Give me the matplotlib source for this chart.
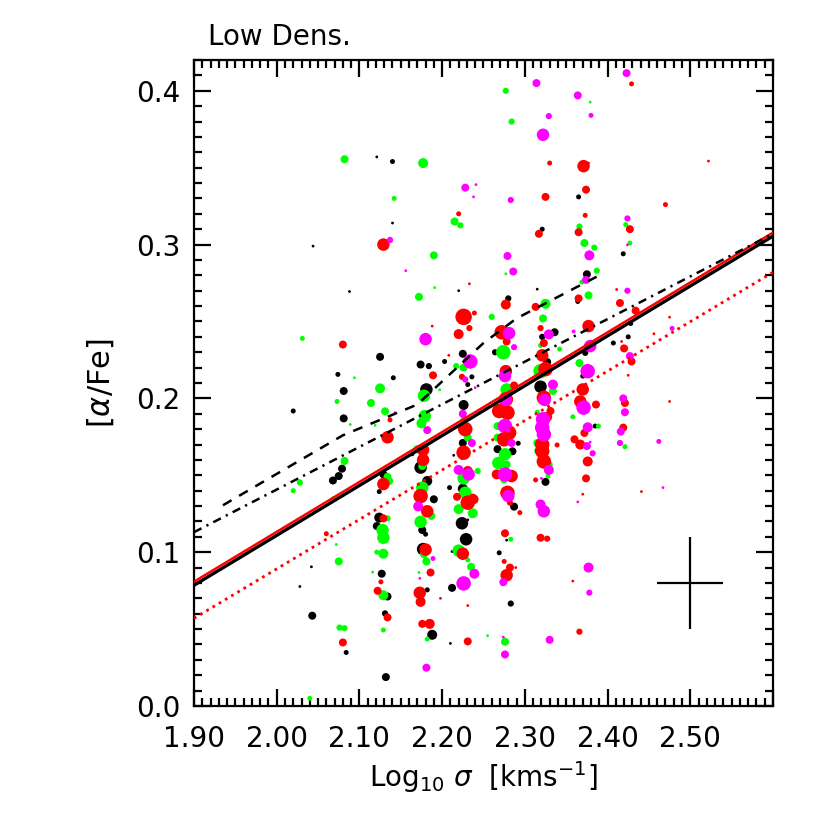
import matplotlib
matplotlib.use("Agg")
import matplotlib.pyplot as plt
from matplotlib.ticker import MultipleLocator

# galaxies: (log sigma, [alpha/Fe], weight class 1..5)
black_pts = [
    (2.121, 0.357, 1), (2.140, 0.354, 2), (2.140, 0.314, 1), (2.044, 0.299, 1),
    (2.088, 0.2695, 1), (2.220, 0.270, 1), (2.125, 0.227, 3), (2.225, 0.229, 3),
    (2.174, 0.222, 3), (2.184, 0.221, 2.5), (2.203, 0.224, 2), (2.074, 0.2156, 2),
    (2.236, 0.214, 2), (2.141, 0.2134, 2),
    (2.365, 0.331, 2), (2.321, 0.310, 2), (2.419, 0.294, 2), (2.375, 0.2807, 3),
    (2.315, 0.271, 1), (2.280, 0.265, 2.5), (2.364, 0.263, 2), (2.336, 0.243, 3),
    (2.321, 0.240, 2.5), (2.264, 0.230, 2.5), (2.373, 0.2296, 2.5), (2.428, 0.2487, 2),
    (2.425, 0.240, 2), (2.407, 0.236, 2), (2.327, 0.2236, 3), (2.370, 0.2145, 2),
    (2.081, 0.2048, 3), (2.181, 0.2058, 4), (2.226, 0.1957, 3.5), (2.081, 0.187, 3),
    (2.225, 0.171, 3), (2.214, 0.163, 1), (2.164, 0.1636, 1.5), (2.079, 0.1543, 3),
    (2.174, 0.155, 4), (2.075, 0.1495, 3), (2.129, 0.1506, 3), (2.068, 0.1466, 3),
    (2.182, 0.1463, 3.5), (2.209, 0.142, 2), (2.225, 0.1413, 3.5), (2.124, 0.1394, 2),
    (2.231, 0.209, 2),
    (2.190, 0.1344, 3), (2.176, 0.1144, 3), (2.180, 0.1117, 2), (2.224, 0.1188, 4),
    (2.229, 0.1084, 4), (2.231, 0.121, 1), (2.212, 0.1004, 1), (2.212, 0.0768, 3),
    (2.210, 0.0407, 1), (2.124, 0.1225, 3.5), (2.121, 0.117, 3), (2.127, 0.086, 3),
    (2.134, 0.0712, 3), (2.131, 0.0602, 2.5), (2.132, 0.0188, 3), (2.084, 0.0348, 2),
    (2.177, 0.102, 4), (2.182, 0.0755, 2), (2.188, 0.0463, 3.5),
    (2.020, 0.1918, 2), (2.042, 0.0905, 1), (2.028, 0.0777, 1), (2.043, 0.0587, 3),
    (2.319, 0.2076, 4), (2.292, 0.1708, 2), (2.267, 0.167, 3), (2.285, 0.1656, 3),
    (2.325, 0.1457, 3), (2.385, 0.182, 2),
    (2.287, 0.1296, 3), (2.278, 0.1078, 1), (2.269, 0.0996, 2), (2.283, 0.0666, 2.5),
]

green_pts = [
    (2.082, 0.3555, 3), (2.177, 0.353, 3.5), (2.142, 0.330, 2), (2.215, 0.315, 3),
    (2.222, 0.3125, 2.5), (2.190, 0.293, 3), (2.191, 0.272, 1), (2.172, 0.266, 3),
    (2.031, 0.239, 2), (2.217, 0.221, 2.5), (2.226, 0.220, 3), (2.094, 0.2134, 1),
    (2.277, 0.400, 2.5), (2.379, 0.3926, 1), (2.284, 0.380, 2.5), (2.366, 0.3117, 2.5),
    (2.422, 0.313, 2), (2.372, 0.301, 3), (2.384, 0.298, 2.5), (2.427, 0.301, 2),
    (2.277, 0.281, 1), (2.387, 0.283, 2.5), (2.369, 0.2757, 2), (2.325, 0.2615, 3.5),
    (2.377, 0.267, 3), (2.260, 0.253, 2.5), (2.322, 0.252, 3), (2.319, 0.2344, 2),
    (2.342, 0.232, 2), (2.274, 0.230, 4.5), (2.319, 0.2177, 4.5), (2.366, 0.223, 3),
    (2.125, 0.2065, 3.5), (2.178, 0.2017, 4), (2.197, 0.2056, 1), (2.073, 0.198, 2),
    (2.114, 0.197, 3), (2.131, 0.1916, 3), (2.179, 0.1885, 4), (2.227, 0.186, 3),
    (2.089, 0.183, 1), (2.119, 0.1825, 1), (2.175, 0.1838, 3.5), (2.231, 0.1745, 3),
    (2.170, 0.167, 3), (2.082, 0.1593, 3), (2.176, 0.156, 3), (2.134, 0.149, 3),
    (2.243, 0.1528, 2.5), (2.226, 0.148, 4), (2.136, 0.1463, 3), (2.176, 0.142, 4),
    (2.228, 0.1387, 4),
    (2.187, 0.1236, 3), (2.174, 0.1197, 4), (2.220, 0.128, 3.5), (2.237, 0.1253, 3.5),
    (2.220, 0.1010, 4), (2.231, 0.095, 2), (2.235, 0.0905, 3), (2.255, 0.0457, 1),
    (2.134, 0.122, 2.5), (2.128, 0.1144, 4), (2.129, 0.1094, 4), (2.121, 0.100, 2),
    (2.129, 0.099, 3.5), (2.075, 0.094, 3), (2.072, 0.105, 1), (2.116, 0.087, 1),
    (2.129, 0.072, 3.5), (2.129, 0.0494, 2), (2.076, 0.051, 2.5), (2.082, 0.0506, 2.5),
    (2.181, 0.094, 3), (2.172, 0.0868, 1), (2.178, 0.0987, 3), (2.182, 0.0435, 2),
    (2.028, 0.1453, 2.5), (2.020, 0.140, 2), (2.068, 0.1355, 1), (2.040, 0.005, 2),
    (2.334, 0.2048, 3), (2.278, 0.2058, 4), (2.267, 0.182, 3), (2.267, 0.1745, 3),
    (2.276, 0.1636, 4), (2.268, 0.158, 4), (2.278, 0.157, 3), (2.275, 0.1474, 3),
    (2.315, 0.191, 2), (2.315, 0.171, 3), (2.315, 0.1658, 2.5), (2.330, 0.157, 2.5),
    (2.328, 0.1495, 2), (2.358, 0.188, 2), (2.389, 0.182, 2), (2.421, 0.1686, 2),
    (2.283, 0.1084, 2), (2.276, 0.0418, 3),
]

red_pts = [
    (2.220, 0.320, 2), (2.129, 0.300, 4), (2.233, 0.2745, 1), (2.226, 0.253, 5),
    (2.239, 0.2555, 2), (2.233, 0.2457, 2.5), (2.188, 0.247, 1), (2.220, 0.2418, 3.5),
    (2.080, 0.235, 3), (2.208, 0.228, 1), (2.189, 0.215, 3), (2.224, 0.214, 2.5),
    (2.429, 0.4045, 2), (2.330, 0.353, 2), (2.371, 0.351, 4), (2.377, 0.353, 1),
    (2.325, 0.331, 3), (2.374, 0.3357, 3), (2.522, 0.3543, 1), (2.470, 0.326, 2),
    (2.373, 0.319, 2), (2.317, 0.307, 3), (2.365, 0.308, 3), (2.427, 0.310, 3),
    (2.277, 0.261, 3.5), (2.313, 0.2595, 3), (2.365, 0.265, 3), (2.411, 0.2708, 1),
    (2.415, 0.262, 3), (2.434, 0.257, 3), (2.319, 0.2457, 2.5), (2.272, 0.243, 4.5),
    (2.278, 0.237, 3), (2.377, 0.247, 4), (2.323, 0.236, 3), (2.321, 0.228, 4),
    (2.420, 0.2325, 3), (2.429, 0.224, 3), (2.475, 0.2528, 1), (2.456, 0.242, 1),
    (2.417, 0.237, 1), (2.325, 0.219, 4.5), (2.425, 0.215, 1), (2.277, 0.2177, 4),
    (2.137, 0.186, 2), (2.228, 0.180, 4.5), (2.134, 0.1747, 4), (2.226, 0.1647, 4.5),
    (2.177, 0.1665, 4), (2.177, 0.160, 4), (2.231, 0.1528, 3.5), (2.129, 0.1443, 4),
    (2.174, 0.1365, 4.5), (2.218, 0.136, 3), (2.237, 0.1355, 3),
    (2.182, 0.1266, 4), (2.231, 0.1322, 4.5), (2.238, 0.1344, 3.5), (2.225, 0.099, 4),
    (2.231, 0.0653, 1), (2.231, 0.042, 3), (2.129, 0.122, 3), (2.126, 0.0807, 2),
    (2.122, 0.0749, 3), (2.134, 0.0576, 3), (2.080, 0.0413, 3), (2.186, 0.0868, 3),
    (2.180, 0.1017, 4), (2.173, 0.0736, 4), (2.174, 0.0677, 3.5), (2.198, 0.070, 1),
    (2.176, 0.0534, 3), (2.185, 0.0534, 3.5),
    (2.060, 0.112, 2),
    (2.323, 0.2004, 4.5), (2.331, 0.1918, 3), (2.277, 0.1994, 4.5), (2.269, 0.1918, 4.5),
    (2.279, 0.1907, 4.5), (2.287, 0.2084, 3), (2.281, 0.1777, 4.5), (2.275, 0.1734, 4.5),
    (2.266, 0.1506, 3.5), (2.284, 0.1495, 4), (2.279, 0.1386, 4.5), (2.327, 0.188, 3.5),
    (2.321, 0.170, 4.5), (2.321, 0.1658, 4.5), (2.323, 0.159, 4.5), (2.313, 0.147, 2),
    (2.339, 0.1697, 2), (2.370, 0.2058, 4), (2.367, 0.198, 4), (2.386, 0.196, 3),
    (2.372, 0.1775, 3), (2.360, 0.1734, 3), (2.367, 0.170, 3.5), (2.376, 0.159, 3.5),
    (2.374, 0.148, 3), (2.370, 0.1377, 1), (2.421, 0.197, 3), (2.419, 0.181, 3),
    (2.441, 0.1394, 1), (2.475, 0.198, 1),
    (2.282, 0.1322, 2.5), (2.294, 0.1257, 2), (2.276, 0.1123, 3), (2.319, 0.1094, 3),
    (2.327, 0.1088, 2.5), (2.275, 0.094, 2), (2.282, 0.090, 3), (2.289, 0.090, 1),
    (2.278, 0.085, 4), (2.358, 0.0812, 1), (2.366, 0.0483, 2.5),
]

magenta_pts = [
    (2.228, 0.337, 3), (2.241, 0.339, 1), (2.238, 0.331, 1), (2.137, 0.303, 2.5),
    (2.156, 0.283, 1), (2.180, 0.2385, 4), (2.234, 0.224, 4.5),
    (2.423, 0.4115, 3), (2.314, 0.405, 3), (2.364, 0.397, 3), (2.329, 0.3835, 2.5),
    (2.380, 0.384, 2), (2.322, 0.3714, 4), (2.283, 0.329, 2.5), (2.424, 0.317, 2.5),
    (2.424, 0.2998, 1), (2.279, 0.2926, 3), (2.378, 0.293, 3.5), (2.286, 0.2825, 3),
    (2.374, 0.277, 3), (2.424, 0.270, 2.5), (2.281, 0.2424, 4), (2.329, 0.2416, 3.5),
    (2.359, 0.2435, 1.5), (2.287, 0.2333, 2.5), (2.379, 0.234, 4), (2.427, 0.2275, 3),
    (2.478, 0.2455, 2), (2.376, 0.2177, 4.5), (2.276, 0.2145, 4),
    (2.143, 0.1907, 1), (2.225, 0.190, 3), (2.182, 0.1794, 3), (2.236, 0.171, 3),
    (2.220, 0.1535, 3.5), (2.232, 0.1506, 4), (2.228, 0.2123, 2.5), (2.240, 0.207, 1),
    (2.171, 0.1298, 3.5), (2.239, 0.086, 3.5), (2.226, 0.0797, 4.5), (2.189, 0.0959, 2),
    (2.173, 0.083, 1), (2.181, 0.0249, 3),
    (2.324, 0.199, 4), (2.334, 0.209, 3.5), (2.277, 0.199, 4), (2.276, 0.182, 4.5),
    (2.284, 0.171, 3), (2.276, 0.1506, 4.5), (2.280, 0.1365, 4), (2.322, 0.1864, 4.5),
    (2.321, 0.181, 4.5), (2.323, 0.1766, 4.5), (2.329, 0.1535, 3.5), (2.320, 0.148, 1),
    (2.371, 0.194, 4.5), (2.376, 0.1812, 3.5), (2.375, 0.169, 3), (2.379, 0.1716, 1),
    (2.382, 0.1643, 2.5), (2.419, 0.200, 3), (2.421, 0.191, 3), (2.416, 0.1784, 3),
    (2.415, 0.171, 2.5),
    (2.462, 0.172, 2), (2.467, 0.142, 1),
    (2.319, 0.131, 3.5), (2.323, 0.1266, 4), (2.364, 0.1327, 1), (2.377, 0.090, 3.5),
    (2.378, 0.0737, 2.5), (2.274, 0.0805, 3), (2.274, 0.0448, 1), (2.330, 0.043, 3),
    (2.276, 0.0335, 3),
]

# fitted relations
fit_x = [1.9, 2.6]
fit_black = [0.0785, 0.3055]
fit_red = [0.0808, 0.3078]
fit_red_dotted = [0.057, 0.282]
fit_dashdot = [0.113, 0.307]

# running median (dashed)
med_x = [1.935, 2.08, 2.17, 2.25, 2.29, 2.39]
med_y = [0.1305, 0.176, 0.196, 0.236, 0.252, 0.280]

# typical error
err_x, err_y = 2.50, 0.08
err_dx, err_dy = 0.04, 0.03

diam_px = {1: 2.8, 1.5: 3.8, 2: 5.0, 2.5: 6.2, 3: 8.0, 3.5: 10.0, 4: 12.5, 4.5: 14.5, 5: 16.5}

plt.rcParams['font.family'] = 'DejaVu Sans'
fig = plt.figure(figsize=(8.3, 8.3), dpi=100)
ax = fig.add_axes([0.2337, 0.1494, 0.6976, 0.7783])

for pts, col in [(black_pts, 'black'), (green_pts, '#00ff00'),
                 (red_pts, '#ff0000'), (magenta_pts, '#ff00ff')]:
    xs = [p[0] for p in pts]
    ys = [p[1] for p in pts]
    ss = [(diam_px[p[2]] * 0.72) ** 2 for p in pts]
    ax.scatter(xs, ys, s=ss, c=col, edgecolors='none', zorder=2)

ax.plot(fit_x, fit_black, color='black', lw=2.4, zorder=3)
ax.plot(fit_x, fit_red, color='#ff0000', lw=1.8, zorder=3)
ax.plot(fit_x, fit_red_dotted, color='#ff0000', lw=2.0,
        linestyle=(0, (1, 1.6)), zorder=3)
ax.plot(fit_x, fit_dashdot, color='black', lw=1.8,
        linestyle=(0, (3.4, 2.2, 0.9, 2.2)), zorder=3)
ax.plot(med_x, med_y, color='black', lw=1.8,
        linestyle=(0, (4, 3.5)), zorder=3)

ax.errorbar([err_x], [err_y], xerr=[err_dx], yerr=[err_dy], fmt='none',
            ecolor='black', elinewidth=1.6, capsize=0, zorder=3)

ax.set_xlim(1.9, 2.6)
ax.set_ylim(0.0, 0.42)

xt = [1.9, 2.0, 2.1, 2.2, 2.3, 2.4, 2.5, 2.6]
ax.set_xticks(xt)
ax.set_xticklabels(['%.2f' % v for v in xt[:-1]] + [''])
ax.set_yticks([0.0, 0.1, 0.2, 0.3, 0.4])
ax.set_yticklabels(['0.0', '0.1', '0.2', '0.3', '0.4'])
ax.xaxis.set_minor_locator(MultipleLocator(0.01))
ax.yaxis.set_minor_locator(MultipleLocator(0.01))

ax.tick_params(which='both', direction='in', top=True, right=True,
               labelsize=20, width=1.6, colors='black')
ax.tick_params(which='major', length=12)
ax.tick_params(which='minor', length=5.5)
ax.tick_params(axis='x', pad=14)
ax.tick_params(axis='y', pad=10)
for sp in ax.spines.values():
    sp.set_linewidth(1.6)

ax.set_xlabel(r'Log$_{10}$ $\sigma$  [kms$^{-1}$]', fontsize=20, labelpad=4)
ax.set_ylabel(r'[$\alpha$/Fe]', fontsize=22, labelpad=14)
ax.text(0.024, 1.023, 'Low Dens.', transform=ax.transAxes,
        fontsize=20, ha='left', va='baseline')

fig.savefig('out.png', dpi=100)
